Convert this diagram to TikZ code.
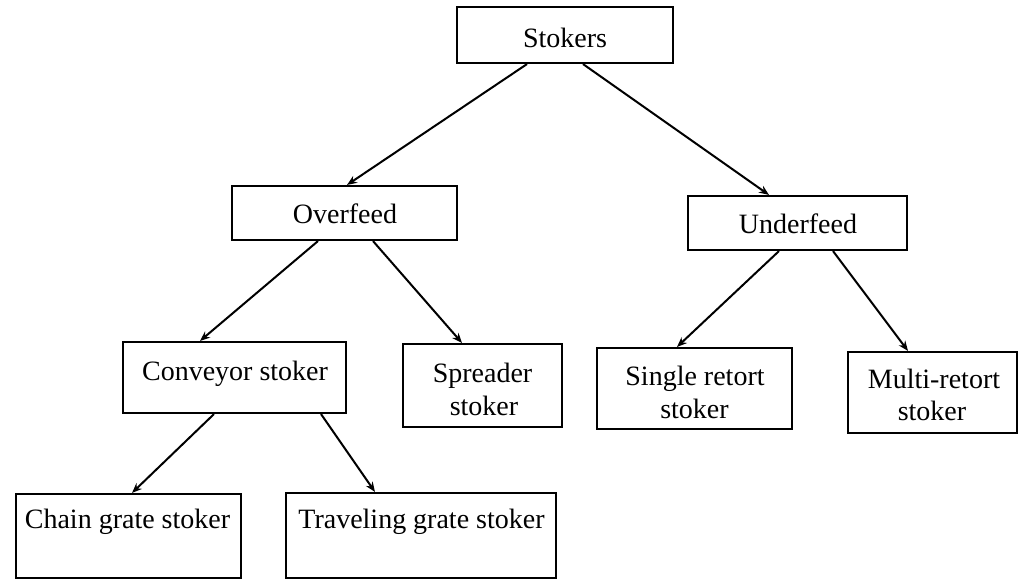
\documentclass[tikz,border=0pt]{standalone}
\usepackage{fontspec}
\setmainfont{Liberation Serif}
\usetikzlibrary{arrows.meta}

\begin{document}
\begin{tikzpicture}[x=1pt,y=-1pt,
  box/.style={draw=black, line width=2.1pt, rectangle, inner sep=0pt},
  lbl/.style={anchor=base, inner sep=0pt, font=\fontsize{28}{33}\selectfont},
  link/.style={line width=2pt, -{Stealth[length=10pt,width=8pt]}}]
  \useasboundingbox (0,0) rectangle (1019,581);
  \fill[white] (0,0) rectangle (1019,581);

  % boxes of the classification tree
  \node[box, minimum width=216pt, minimum height=56pt] (stk) at (565,35) {};
  \node[box, minimum width=225pt, minimum height=54pt] (ovf) at (344.5,213) {};
  \node[box, minimum width=219pt, minimum height=54pt] (udf) at (797.5,223) {};
  \node[box, minimum width=223pt, minimum height=71pt] (cnv) at (234.5,377.5) {};
  \node[box, minimum width=159pt, minimum height=83pt] (spr) at (482.5,385.5) {};
  \node[box, minimum width=195pt, minimum height=81pt] (sgl) at (694.5,388.5) {};
  \node[box, minimum width=169pt, minimum height=81pt] (mlt) at (932.5,392.5) {};
  \node[box, minimum width=225pt, minimum height=84pt] (chn) at (128.5,536) {};
  \node[box, minimum width=270pt, minimum height=85pt] (trv) at (421,535.5) {};

  % box texts
  \node[lbl] (stk-t) at (565,47) {Stokers};
  \node[lbl] (ovf-t) at (345,223) {Overfeed};
  \node[lbl] (udf-t) at (798,233) {Underfeed};
  \node[lbl] (cnv-t) at (235,380) {Conveyor stoker};
  \node[lbl] (spr-t1) at (482.5,382) {Spreader};
  \node[lbl] (spr-t2) at (484,415) {stoker};
  \node[lbl] (sgl-t1) at (695,385) {Single retort};
  \node[lbl] (sgl-t2) at (694.5,418) {stoker};
  \node[lbl] (mlt-t1) at (934,388) {Multi-retort};
  \node[lbl] (mlt-t2) at (932,420) {stoker};
  \node[lbl] (chn-t) at (127.5,528) {Chain grate stoker};
  \node[lbl] (trv-t) at (421.5,528) {Traveling grate stoker};

  % connectors
  \draw[link] ([xshift=-38pt]stk.south) -- ([xshift=2.5pt]ovf.north);
  \draw[link] ([xshift=18pt]stk.south) -- ([xshift=-28.5pt]udf.north);
  \draw[link] ([xshift=-26.5pt]ovf.south) -- ([xshift=-34.5pt]cnv.north);
  \draw[link] ([xshift=28.5pt]ovf.south) -- ([xshift=-20.5pt]spr.north);
  \draw[link] ([xshift=-18.5pt]udf.south) -- ([xshift=-17.5pt]sgl.north);
  \draw[link] ([xshift=35.5pt]udf.south) -- ([xshift=-24.5pt]mlt.north);
  \draw[link] ([xshift=-20.5pt]cnv.south) -- ([xshift=3.5pt]chn.north);
  \draw[link] ([xshift=86.5pt]cnv.south) -- ([xshift=-46pt]trv.north);
\end{tikzpicture}
\end{document}
